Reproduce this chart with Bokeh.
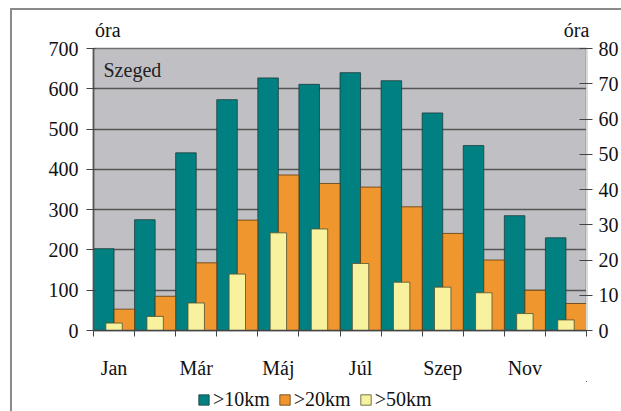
from bokeh.plotting import figure
from bokeh.layouts import column
from bokeh.models import Range1d, LinearAxis, FixedTicker, Label, Legend, LegendItem
from bokeh.embed import file_html
from bokeh.resources import INLINE

months = ["Jan", "Feb", "Már", "Ápr", "Máj", "Jún", "Júl", "Aug", "Szep", "Okt", "Nov", "Dec"]
hours_10km = [203, 275, 441, 573, 627, 611, 640, 620, 540, 459, 285, 230]
hours_20km = [53, 85, 168, 274, 386, 365, 356, 307, 241, 175, 100, 67]
hours_50km = [2.1, 4.0, 7.8, 16.0, 27.7, 28.8, 19.0, 13.7, 12.3, 10.7, 4.8, 3.0]
left_ticks = [0, 100, 200, 300, 400, 500, 600, 700]
right_ticks = [0, 10, 20, 30, 40, 50, 60, 70, 80]
series_names = [">10km", ">20km", ">50km"]
unit_label = "óra"
station = "Szeged"

FONT = "Liberation Serif"
FS = "20px"
TEAL = "#008080"
ORANGE = "#f0962f"
YELLOW = "#f8f29e"
COLORS = [TEAL, ORANGE, YELLOW]
EDGE = ["#1c3c3c", "#5a3a10", "#505030"]

n = len(months)
idx = list(range(n))

p = figure(width=609, height=371, output_backend="svg", toolbar_location=None,
           x_range=Range1d(0, n), y_range=Range1d(0, 700),
           min_border_left=81, min_border_top=38, min_border_right=34, min_border_bottom=46)
p.extra_y_ranges = {"r": Range1d(0, 80)}

p.background_fill_color = "#c0c0c4"
p.border_fill_color = "white"
p.outline_line_color = "#707070"
p.outline_line_width = 1.5

p.vbar(x=[i + 0.25 for i in idx], top=hours_10km, width=0.5, fill_color=TEAL,
       line_color=EDGE[0], line_width=0.8)
p.vbar(x=[i + 0.75 for i in idx], top=hours_20km, width=0.5, fill_color=ORANGE,
       line_color=EDGE[1], line_width=0.8)
p.vbar(x=[i + 0.5 for i in idx], top=hours_50km, width=0.4, fill_color=YELLOW,
       line_color=EDGE[2], line_width=0.8, y_range_name="r")

# x axis: labels at category centres (every other month), ticks at boundaries
xa = p.xaxis[0]
xa.ticker = FixedTicker(ticks=[i + 0.5 for i in idx[::2]], minor_ticks=list(range(n + 1)))
xa.major_label_overrides = {i + 0.5: months[i] for i in idx[::2]}
xa.major_tick_out = 0
xa.major_tick_in = 0
xa.minor_tick_out = 6
xa.minor_tick_in = 0
xa.minor_tick_line_color = "#444444"
xa.major_label_standoff = 20
xa.axis_line_color = "#444444"
xa.axis_line_width = 1.5

ya = p.yaxis[0]
ya.ticker = FixedTicker(ticks=left_ticks)
ya.major_tick_out = 7
ya.major_tick_in = 2
ya.minor_tick_out = 0
ya.minor_tick_in = 0
ya.major_label_standoff = 8
ya.axis_line_color = "#555555"
ya.axis_line_width = 1.5

ra = LinearAxis(y_range_name="r", ticker=FixedTicker(ticks=right_ticks))
ra.major_tick_out = 6
ra.major_tick_in = 7
ra.minor_tick_out = 0
ra.minor_tick_in = 0
ra.major_label_standoff = 6
ra.axis_line_color = "#d8d8d8"
p.add_layout(ra, "right")

# unit labels ("óra") above both value axes, drawn as tick labels of a bare top axis
unit_pos = [0.35, 11.76]
ta = LinearAxis(ticker=FixedTicker(ticks=unit_pos, minor_ticks=[]),
                major_label_overrides={v: unit_label for v in unit_pos})
ta.axis_line_alpha = 0
ta.major_tick_out = 0
ta.major_tick_in = 0
ta.major_label_standoff = 8
p.add_layout(ta, "above")

for ax in (xa, ya, ra, ta):
    ax.major_label_text_font = FONT
    ax.major_label_text_font_size = FS
    ax.major_label_text_color = "#111111"
    ax.major_tick_line_color = "#444444"
ta.major_tick_line_alpha = 0

p.xgrid.visible = False
p.ygrid.grid_line_color = "#555555"
p.ygrid.grid_line_width = 1.5

p.add_layout(Label(x=0, y=700, x_offset=10, y_offset=-10, text=station, text_baseline="top",
                   text_font=FONT, text_font_size=FS, text_color="#222222"))

# legend strip below the chart (series re-drawn far out of view, only legend keys show)
lg = figure(width=609, height=30, output_backend="svg", toolbar_location=None,
            x_range=Range1d(-100000, -99999), y_range=Range1d(-100000, -99999),
            x_axis_location=None, y_axis_location=None, min_border=0)
lg.outline_line_color = None
lg.background_fill_color = "white"
lg.border_fill_color = "white"
lg.xgrid.visible = False
lg.ygrid.visible = False
keys = [lg.vbar(x=[i + 0.5 for i in idx], top=vals, width=0.5, fill_color=c, line_color=e,
                line_width=0.8)
        for vals, c, e in zip([hours_10km, hours_20km, hours_50km], COLORS, EDGE)]
legend = Legend(items=[LegendItem(label=s, renderers=[r]) for s, r in zip(series_names, keys)],
                orientation="horizontal", location=(104, 0))
legend.padding = 0
legend.margin = 0
legend.spacing = 8
legend.label_standoff = 3
legend.glyph_width = 13
legend.glyph_height = 13
legend.border_line_alpha = 0
legend.background_fill_alpha = 0
legend.label_text_font = FONT
legend.label_text_font_size = FS
legend.label_text_color = "#111111"
lg.add_layout(legend, "center")

layout = column(p, lg, spacing=0)
layout.styles = {"border-top": "2px solid #8a8a8a", "border-left": "2px solid #8a8a8a",
                 "margin-left": "10px", "margin-top": "8px"}

open("out.html", "w").write(file_html(layout, INLINE))
